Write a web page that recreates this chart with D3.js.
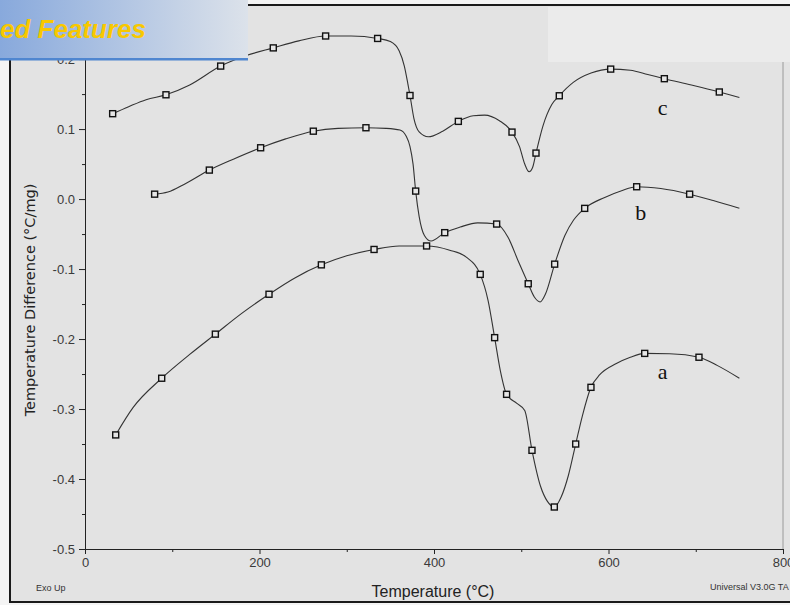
<!DOCTYPE html>
<html>
<head>
<meta charset="utf-8">
<script src="https://cdn.jsdelivr.net/npm/d3@7"></script>
<style>
  body { margin: 0; background: #f4f4f4; }
  svg { display: block; }
  .tick text { font-family: "Liberation Sans", Arial, sans-serif; font-size: 13px; fill: #3a3a3a; }
  .tick line, .domain { stroke: #222; }
</style>
</head>
<body>
<svg id="chart" width="790" height="605"></svg>
<script>
// curve a (bottom)
var tempA = [35.2, 55, 87.9, 120, 149.4, 180, 210.9, 240, 270.9, 300, 331.3, 360, 391.5, 418, 437, 453, 462, 469.5, 476, 483.2, 495, 504, 512.3, 522, 530, 537.9, 546, 554, 562.4, 570, 579.9, 590, 609, 625, 641.5, 670, 703.7, 725, 750];
var diffA = [-0.337, -0.298, -0.256, -0.222, -0.193, -0.163, -0.136, -0.113, -0.094, -0.081, -0.072, -0.067, -0.067, -0.073, -0.083, -0.1076, -0.145, -0.198, -0.245, -0.279, -0.292, -0.302, -0.359, -0.41, -0.432, -0.44, -0.425, -0.395, -0.35, -0.31, -0.269, -0.251, -0.235, -0.226, -0.2205, -0.221, -0.226, -0.238, -0.256];
var markA = [0, 2, 4, 6, 8, 10, 12, 15, 17, 19, 22, 25, 28, 30, 34, 36];

// curve b (middle)
var tempB = [79.8, 95, 115, 142.5, 170, 201.3, 230, 261.7, 290, 322, 345, 361, 368, 372.5, 376, 379, 383, 389, 396.6, 412.3, 430, 450, 471.8, 485, 497, 508, 515, 521.6, 528, 538.3, 550, 560, 572.7, 595, 615, 632.3, 660, 693, 720, 750];
var diffB = [0.007, 0.01, 0.022, 0.0414, 0.057, 0.0733, 0.086, 0.097, 0.101, 0.1019, 0.101, 0.0986, 0.09, 0.075, 0.05, 0.0114, -0.025, -0.052, -0.06, -0.048, -0.04, -0.034, -0.0357, -0.055, -0.09, -0.121, -0.14, -0.147, -0.135, -0.093, -0.052, -0.03, -0.0133, 0.002, 0.012, 0.0176, 0.015, 0.007, -0.002, -0.013];
var markB = [0, 3, 5, 7, 9, 15, 19, 22, 25, 29, 32, 35, 37];

// curve c (top)
var tempC = [31.7, 50, 70, 92.8, 120, 155.5, 185, 215.8, 245, 275.8, 305, 335.4, 350, 360, 366, 370, 372.5, 377, 383, 393.5, 410, 427.9, 445, 458, 475, 489.4, 498, 504, 509, 513, 516.9, 525, 535, 543.6, 560, 580, 602.5, 625, 645, 664, 695, 727, 750];
var diffC = [0.122, 0.132, 0.142, 0.149, 0.163, 0.19, 0.205, 0.216, 0.226, 0.233, 0.233, 0.2295, 0.225, 0.212, 0.19, 0.165, 0.148, 0.115, 0.096, 0.089, 0.097, 0.111, 0.119, 0.12, 0.112, 0.0957, 0.075, 0.05, 0.039, 0.045, 0.0657, 0.105, 0.135, 0.1476, 0.167, 0.18, 0.1857, 0.184, 0.178, 0.172, 0.163, 0.153, 0.145];
var markC = [0, 3, 5, 7, 9, 11, 16, 21, 25, 30, 33, 36, 39, 41];

var curveNames = ["a", "b", "c"];
var namePosT = [662, 637, 662];
var namePosV = [-0.247, -0.019, 0.131];

var xMajor = [0, 200, 400, 600, 800];
var xMinor = [100, 300, 500, 700];
var yMajor = [0.2, 0.1, 0.0, -0.1, -0.2, -0.3, -0.4, -0.5];
var yLabels = ["0.2", "0.1", "0.0", "-0.1", "-0.2", "-0.3", "-0.4", "-0.5"];
var yMinor = [0.15, 0.05, -0.05, -0.15, -0.25, -0.35, -0.45];

var svg = d3.select("#chart");
var defs = svg.append("defs");

// page frame and panel
svg.append("rect")
  .attr("x", 10).attr("y", 5)
  .attr("width", 800).attr("height", 597)
  .attr("fill", "#e3e3e3")
  .attr("stroke", "#1a1a1a")
  .attr("stroke-width", 2);

svg.append("rect")
  .attr("x", 548).attr("y", 7)
  .attr("width", 250).attr("height", 55)
  .attr("fill", "#ebebeb");

var x = d3.scaleLinear().domain([0, 800]).range([85, 783]);
var y = d3.scaleLinear().domain([-0.5, 0.273]).range([549, 8]);

// right edge of plot
svg.append("line")
  .attr("x1", x(800)).attr("x2", x(800))
  .attr("y1", 62).attr("y2", y(-0.5))
  .attr("stroke", "#9a9a9a");

// x axis
svg.append("g")
  .attr("transform", "translate(0," + y(-0.5) + ")")
  .call(d3.axisBottom(x).tickValues(xMajor).tickSize(5).tickSizeOuter(0).tickPadding(4)
    .tickFormat(function(d) { return String(d); }));
svg.append("g")
  .attr("transform", "translate(0," + y(-0.5) + ")")
  .call(d3.axisBottom(x).tickValues(xMinor).tickSize(3).tickSizeOuter(0).tickFormat(""))
  .select(".domain").remove();

// y axis
svg.append("g")
  .attr("transform", "translate(" + x(0) + ",0)")
  .call(d3.axisLeft(y).tickValues(yMajor).tickSize(6).tickSizeOuter(0).tickPadding(4)
    .tickFormat(function(d, i) { return yLabels[i]; }));
svg.append("g")
  .attr("transform", "translate(" + x(0) + ",0)")
  .call(d3.axisLeft(y).tickValues(yMinor).tickSize(3).tickSizeOuter(0).tickFormat(""))
  .select(".domain").remove();

// curves
var line = d3.line()
  .x(function(d) { return x(d[0]); })
  .y(function(d) { return y(d[1]); })
  .curve(d3.curveMonotoneX);

function drawCurve(temps, diffs, marks) {
  var pts = temps.map(function(t, i) { return [t, diffs[i]]; });
  svg.append("path")
    .datum(pts)
    .attr("d", line)
    .attr("fill", "none")
    .attr("stroke", "#333")
    .attr("stroke-width", 1.1);
  svg.selectAll(null)
    .data(marks.map(function(i) { return pts[i]; }))
    .enter().append("rect")
    .attr("x", function(d) { return x(d[0]) - 3; })
    .attr("y", function(d) { return y(d[1]) - 3; })
    .attr("width", 6).attr("height", 6)
    .attr("fill", "#e6e6e6")
    .attr("stroke", "#111")
    .attr("stroke-width", 1.4);
}
drawCurve(tempA, diffA, markA);
drawCurve(tempB, diffB, markB);
drawCurve(tempC, diffC, markC);

curveNames.forEach(function(n, i) {
  svg.append("text")
    .attr("x", x(namePosT[i])).attr("y", y(namePosV[i]))
    .attr("text-anchor", "middle")
    .attr("dominant-baseline", "central")
    .style("font-family", "'Liberation Serif', 'Times New Roman', serif")
    .style("font-size", "22px")
    .attr("fill", "#111")
    .text(n);
});

// titles
svg.append("text")
  .attr("transform", "translate(30,300) rotate(-90)")
  .attr("text-anchor", "middle")
  .attr("dominant-baseline", "central")
  .style("font-family", "'DejaVu Sans', Verdana, sans-serif")
  .style("font-size", "14.5px")
  .attr("fill", "#222")
  .text("Temperature Difference (°C/mg)");

svg.append("text")
  .attr("x", 433).attr("y", 597)
  .attr("text-anchor", "middle")
  .style("font-family", "'Liberation Sans', Arial, sans-serif")
  .style("font-size", "16px")
  .attr("fill", "#222")
  .text("Temperature (°C)");

svg.append("text")
  .attr("x", 36).attr("y", 591)
  .style("font-family", "'Liberation Sans', Arial, sans-serif")
  .style("font-size", "9px")
  .attr("fill", "#333")
  .text("Exo Up");

svg.append("text")
  .attr("x", 710).attr("y", 590)
  .style("font-family", "'Liberation Sans', Arial, sans-serif")
  .style("font-size", "9px")
  .attr("fill", "#333")
  .text("Universal V3.0G TA Instruments");

// slide banner over the corner
var grad = defs.append("linearGradient").attr("id", "banner");
grad.append("stop").attr("offset", "0%").attr("stop-color", "#88a9dc");
grad.append("stop").attr("offset", "100%").attr("stop-color", "#dce2ea");
svg.append("rect")
  .attr("x", 0).attr("y", 0)
  .attr("width", 248).attr("height", 60)
  .attr("fill", "url(#banner)");
svg.append("rect")
  .attr("x", 0).attr("y", 58)
  .attr("width", 248).attr("height", 2.5)
  .attr("fill", "#4f86d0");
svg.append("text")
  .attr("x", 0).attr("y", 38)
  .style("font-family", "'Liberation Sans', Arial, sans-serif")
  .style("font-size", "26px")
  .style("font-weight", "bold")
  .style("font-style", "italic")
  .attr("fill", "#f8c800")
  .text("ed Features");
</script>
</body>
</html>
